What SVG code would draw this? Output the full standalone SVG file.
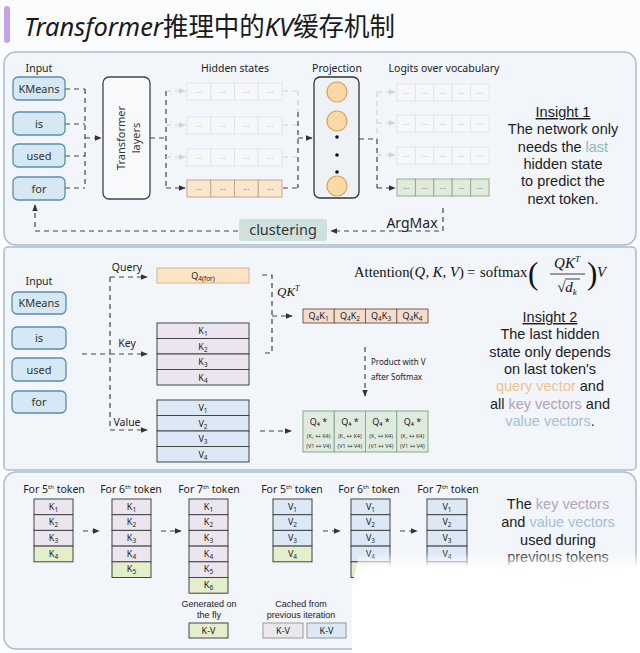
<svg xmlns="http://www.w3.org/2000/svg" width="640" height="653" viewBox="0 0 640 653" font-family="'Noto Sans','Noto Sans CJK SC',sans-serif">
<defs>
<style>
.panel{fill:#f2f5f9;stroke:#a9bccd;stroke-width:1.5}
.inp{fill:#d5e8f3;stroke:#5a8db0;stroke-width:1.3}
.lbl{font-size:10.5px;fill:#222;text-anchor:middle}
.it{font-size:11px;fill:#333;text-anchor:middle}
.d{stroke:#444;stroke-width:1.2;stroke-dasharray:5 4;fill:none}
.df{stroke:#cdd4db;stroke-width:1.2;stroke-dasharray:5 4;fill:none}
.hf{fill:#f5f7f9;stroke:#e2e6eb;stroke-width:1}
.hp{fill:#fae6cf;stroke:#c8a786;stroke-width:1}
.lg{fill:#e0ebdc;stroke:#93ad93;stroke-width:1}
.dots{font-size:8px;text-anchor:middle;fill:#777}
.dotsf{font-size:8px;text-anchor:middle;fill:#c2c8cf}
.ins{font-family:'Liberation Sans',Arial,sans-serif;font-size:14.5px;fill:#1c1c1c;text-anchor:middle}
.c{font-size:9px;fill:#222;text-anchor:middle}
.s{font-size:6.5px}
.kr{fill:#ebe5f0;stroke:#444;stroke-width:1}
.vr{fill:#dce8f5;stroke:#444;stroke-width:1}
.gr{fill:#e3eecb;stroke:#444;stroke-width:1}
.tiny{font-size:5.5px;fill:#333;text-anchor:middle}
.serif{font-family:'Liberation Serif','DejaVu Serif',serif;fill:#111}
.f{font-size:14.7px}
.fi{font-size:14.7px;font-style:italic}
.cap{font-family:'Liberation Sans',Arial,sans-serif;font-size:9px;fill:#222;text-anchor:middle}
</style>
<marker id="ah" viewBox="0 0 10 10" refX="9" refY="5" markerWidth="6" markerHeight="6" orient="auto"><path d="M0,1 L10,5 L0,9 z" fill="#333"/></marker>
<marker id="ahf" viewBox="0 0 10 10" refX="9" refY="5" markerWidth="6" markerHeight="6" orient="auto"><path d="M0,1 L10,5 L0,9 z" fill="#cdd4db"/></marker>
<linearGradient id="fade" x1="0" y1="552" x2="0" y2="568" gradientUnits="userSpaceOnUse"><stop offset="0" stop-color="#fff" stop-opacity="0"/><stop offset="1" stop-color="#fff" stop-opacity="1"/></linearGradient>
</defs>
<rect width="640" height="653" fill="#fbfcfd"/>

<!-- title -->
<g id="title">
<rect x="4" y="6" width="6" height="37" rx="3" fill="#c9a3ea"/>
<text x="24" y="36" font-size="26" fill="#1a1a1a" textLength="371" lengthAdjust="spacingAndGlyphs"><tspan font-style="italic">Transformer</tspan>推理中的<tspan font-style="italic">KV</tspan>缓存机制</text>
</g>

<!-- panels -->
<rect class="panel" x="4" y="52" width="632" height="193" rx="12"/>
<rect class="panel" x="4" y="247" width="632" height="223" rx="4"/>
<rect class="panel" x="4" y="472" width="632" height="177" rx="12"/>

<!-- ===== Panel 1 ===== -->
<g id="connectors1">
<path class="d" d="M65,89 H85 M65,124 H85 M65,156 H85 M65,188 H85 M85,89 V188"/>
<path class="d" d="M85,138 H101" marker-end="url(#ah)"/>
<path class="d" d="M150,138 H166" />
<path class="d" d="M166,91 V188" stroke="#777"/>
<path class="df" d="M166,91 H185" marker-end="url(#ahf)"/>
<path class="df" d="M166,125 H185" marker-end="url(#ahf)"/>
<path class="df" d="M166,157 H185" marker-end="url(#ahf)"/>
<path class="d" d="M166,188 H185" marker-end="url(#ah)"/>
<path class="df" d="M283,91 H298 M283,125 H298 M283,157 H298 M298,91 V112"/>
<path class="d" d="M283,188 H298 M298,112 V188"/>
<path class="d" d="M298,138 H312" marker-end="url(#ah)"/>
<path class="d" d="M359,139 H377 V188"/>
<path class="df" d="M377,92 V139"/>
<path class="df" d="M377,92 H395" marker-end="url(#ahf)"/>
<path class="df" d="M377,123 H395" marker-end="url(#ahf)"/>
<path class="df" d="M377,155 H395" marker-end="url(#ahf)"/>
<path class="d" d="M377,188 H395" marker-end="url(#ah)"/>
<path class="d" d="M443,208 V231 H331" marker-end="url(#ah)"/>
<path class="d" d="M238,231 H35 V205" marker-end="url(#ah)"/>
</g>

<g id="input1">
<text class="lbl" x="39" y="72">Input</text>
<rect class="inp" x="13" y="77" width="52" height="23" rx="5"/><text class="it" x="39" y="92.5">KMeans</text>
<rect class="inp" x="13" y="112" width="52" height="23" rx="5"/><text class="it" x="39" y="127.5">is</text>
<rect class="inp" x="13" y="144" width="52" height="23" rx="5"/><text class="it" x="39" y="159.5">used</text>
<rect class="inp" x="13" y="177" width="52" height="23" rx="5"/><text class="it" x="39" y="192.5">for</text>
</g>

<g id="transformer">
<rect x="103" y="77" width="47" height="122" rx="6" fill="#f7f9fb" stroke="#444" stroke-width="1.3"/>
<text class="it" transform="translate(121,138) rotate(-90)" dy="4">Transformer</text>
<text class="it" transform="translate(136,138) rotate(-90)" dy="4">layers</text>
</g>

<g id="hidden">
<text class="lbl" x="235" y="72">Hidden states</text>
<g>
<rect class="hf" x="187" y="83" width="23.75" height="17"/><rect class="hf" x="210.75" y="83" width="23.75" height="17"/><rect class="hf" x="234.5" y="83" width="23.75" height="17"/><rect class="hf" x="258.25" y="83" width="23.75" height="17"/>
<text class="dotsf" y="93"><tspan x="199">...</tspan><tspan x="222.6">...</tspan><tspan x="246.4">...</tspan><tspan x="270.1">...</tspan></text>
<rect class="hf" x="187" y="117" width="23.75" height="17"/><rect class="hf" x="210.75" y="117" width="23.75" height="17"/><rect class="hf" x="234.5" y="117" width="23.75" height="17"/><rect class="hf" x="258.25" y="117" width="23.75" height="17"/>
<text class="dotsf" y="127"><tspan x="199">...</tspan><tspan x="222.6">...</tspan><tspan x="246.4">...</tspan><tspan x="270.1">...</tspan></text>
<rect class="hf" x="187" y="149" width="23.75" height="17"/><rect class="hf" x="210.75" y="149" width="23.75" height="17"/><rect class="hf" x="234.5" y="149" width="23.75" height="17"/><rect class="hf" x="258.25" y="149" width="23.75" height="17"/>
<text class="dotsf" y="159"><tspan x="199">...</tspan><tspan x="222.6">...</tspan><tspan x="246.4">...</tspan><tspan x="270.1">...</tspan></text>
<rect class="hp" x="187" y="180" width="23.75" height="17"/><rect class="hp" x="210.75" y="180" width="23.75" height="17"/><rect class="hp" x="234.5" y="180" width="23.75" height="17"/><rect class="hp" x="258.25" y="180" width="23.75" height="17"/>
<text class="dots" y="190"><tspan x="199">...</tspan><tspan x="222.6">...</tspan><tspan x="246.4">...</tspan><tspan x="270.1">...</tspan></text>
</g>
</g>

<g id="projection">
<text class="lbl" x="337" y="72">Projection</text>
<rect x="314" y="77" width="45" height="121" rx="6" fill="#eef2f6" stroke="#333" stroke-width="1.3"/>
<circle cx="337" cy="92" r="10" fill="#fbd9a6" stroke="#d9a35b" stroke-width="1.2"/>
<circle cx="337" cy="121" r="10" fill="#fbd9a6" stroke="#d9a35b" stroke-width="1.2"/>
<circle cx="337" cy="137" r="1.8" fill="#111"/>
<circle cx="337" cy="155" r="1.8" fill="#111"/>
<circle cx="337" cy="172" r="1.8" fill="#111"/>
<circle cx="337" cy="186" r="10" fill="#fbd9a6" stroke="#d9a35b" stroke-width="1.2"/>
</g>

<g id="logits">
<text class="lbl" x="444" y="72" font-size="9.5">Logits over vocabulary</text>
<g>
<rect class="hf" x="397" y="84" width="18.4" height="17"/><rect class="hf" x="415.4" y="84" width="18.4" height="17"/><rect class="hf" x="433.8" y="84" width="18.4" height="17"/><rect class="hf" x="452.2" y="84" width="18.4" height="17"/><rect class="hf" x="470.6" y="84" width="18.4" height="17"/>
<text class="dotsf" y="94"><tspan x="406.2">...</tspan><tspan x="424.6">...</tspan><tspan x="443">...</tspan><tspan x="461.4">...</tspan><tspan x="479.8">...</tspan></text>
<rect class="hf" x="397" y="115" width="18.4" height="17"/><rect class="hf" x="415.4" y="115" width="18.4" height="17"/><rect class="hf" x="433.8" y="115" width="18.4" height="17"/><rect class="hf" x="452.2" y="115" width="18.4" height="17"/><rect class="hf" x="470.6" y="115" width="18.4" height="17"/>
<text class="dotsf" y="125"><tspan x="406.2">...</tspan><tspan x="424.6">...</tspan><tspan x="443">...</tspan><tspan x="461.4">...</tspan><tspan x="479.8">...</tspan></text>
<rect class="hf" x="397" y="147" width="18.4" height="17"/><rect class="hf" x="415.4" y="147" width="18.4" height="17"/><rect class="hf" x="433.8" y="147" width="18.4" height="17"/><rect class="hf" x="452.2" y="147" width="18.4" height="17"/><rect class="hf" x="470.6" y="147" width="18.4" height="17"/>
<text class="dotsf" y="157"><tspan x="406.2">...</tspan><tspan x="424.6">...</tspan><tspan x="443">...</tspan><tspan x="461.4">...</tspan><tspan x="479.8">...</tspan></text>
<rect class="lg" x="397" y="179" width="18.4" height="17"/><rect class="lg" x="415.4" y="179" width="18.4" height="17"/><rect class="lg" x="433.8" y="179" width="18.4" height="17"/><rect class="lg" x="452.2" y="179" width="18.4" height="17"/><rect class="lg" x="470.6" y="179" width="18.4" height="17"/>
<text class="dots" y="189"><tspan x="406.2">...</tspan><tspan x="424.6">...</tspan><tspan x="443">...</tspan><tspan x="461.4">...</tspan><tspan x="479.8">...</tspan></text>
</g>
</g>

<g id="argmax"><text x="412" y="228" font-size="14" fill="#222" text-anchor="middle">ArgMax</text></g>
<g id="clustering">
<rect x="239" y="219" width="88" height="22" rx="3" fill="#cfe1dd"/>
<text x="283" y="235" font-size="14.5" fill="#333" text-anchor="middle">clustering</text>
</g>

<g id="insight1">
<text class="ins" x="563" y="117" text-decoration="underline">Insight 1</text>
<text class="ins" x="563" y="134.3">The network only</text>
<text class="ins" x="563" y="151.6">needs the <tspan fill="#86bcbc">last</tspan></text>
<text class="ins" x="563" y="168.9" fill="#86bcbc">hidden state</text>
<text class="ins" x="563" y="186.2">to predict the</text>
<text class="ins" x="563" y="203.5">next token.</text>
</g>

<!-- ===== Panel 2 ===== -->
<g id="connectors2">
<path class="d" d="M82,354 H110 M110,277 V430"/>
<path class="d" d="M110,277 H147" marker-end="url(#ah)"/>
<path class="d" d="M110,354 H147" marker-end="url(#ah)"/>
<path class="d" d="M110,430 H147" marker-end="url(#ah)"/>
<path class="d" d="M262,275 H272 V353 H262"/>
<path class="d" d="M272,316 H292" marker-end="url(#ah)"/>
<path class="d" d="M365,347 V396" marker-end="url(#ah)"/>
<path class="d" d="M260,431 H291" marker-end="url(#ah)"/>
</g>
<text class="lbl" x="127" y="271" font-size="9.5">Query</text>
<text class="lbl" x="127" y="347" font-size="9.5">Key</text>
<text class="lbl" x="127" y="426" font-size="9.5">Value</text>
<text x="277" y="296" class="serif" font-size="13" font-style="italic">QK<tspan font-size="8" dy="-5" font-style="italic">T</tspan></text>
<text x="371" y="365" font-size="8" fill="#222">Product with V</text>
<text x="371" y="380" font-size="8" fill="#222">after Softmax</text>

<g id="input2">
<text class="lbl" x="39" y="285">Input</text>
<rect class="inp" x="12" y="292" width="54" height="22" rx="5"/><text class="it" x="39" y="307">KMeans</text>
<rect class="inp" x="12" y="327" width="54" height="22" rx="5"/><text class="it" x="39" y="342">is</text>
<rect class="inp" x="12" y="358" width="54" height="23" rx="5"/><text class="it" x="39" y="373.5">used</text>
<rect class="inp" x="12" y="391" width="54" height="22" rx="5"/><text class="it" x="39" y="406">for</text>
</g>

<g id="query">
<rect x="157" y="268" width="92" height="15" fill="#fbe3c6" stroke="#d6b58a" stroke-width="1"/>
<text class="c" x="203" y="279">Q<tspan class="s" dy="2">4(for)</tspan></text>
</g>
<g id="keys">
<rect class="kr" x="157" y="323" width="92" height="15.5"/><rect class="kr" x="157" y="338.5" width="92" height="15.5"/><rect class="kr" x="157" y="354" width="92" height="15.5"/><rect class="kr" x="157" y="369.5" width="92" height="15.5"/>
<text class="c" x="203" y="334">K<tspan class="s" dy="2">1</tspan></text>
<text class="c" x="203" y="349.5">K<tspan class="s" dy="2">2</tspan></text>
<text class="c" x="203" y="365">K<tspan class="s" dy="2">3</tspan></text>
<text class="c" x="203" y="380.5">K<tspan class="s" dy="2">4</tspan></text>
</g>
<g id="values">
<rect class="vr" x="157" y="400" width="92" height="15.5"/><rect class="vr" x="157" y="415.5" width="92" height="15.5"/><rect class="vr" x="157" y="431" width="92" height="15.5"/><rect class="vr" x="157" y="446.5" width="92" height="15.5"/>
<text class="c" x="203" y="411">V<tspan class="s" dy="2">1</tspan></text>
<text class="c" x="203" y="426.5">V<tspan class="s" dy="2">2</tspan></text>
<text class="c" x="203" y="442">V<tspan class="s" dy="2">3</tspan></text>
<text class="c" x="203" y="457.5">V<tspan class="s" dy="2">4</tspan></text>
</g>
<g id="qk">
<rect x="303" y="309" width="31.25" height="14" fill="#f3dccd" stroke="#7d5d4e"/><rect x="334.25" y="309" width="31.25" height="14" fill="#f3dccd" stroke="#7d5d4e"/><rect x="365.5" y="309" width="31.25" height="14" fill="#f3dccd" stroke="#7d5d4e"/><rect x="396.75" y="309" width="31.25" height="14" fill="#f3dccd" stroke="#7d5d4e"/>
<text class="c" x="318.6" y="319">Q<tspan class="s" dy="2">4</tspan><tspan dy="-2">K</tspan><tspan class="s" dy="2">1</tspan></text>
<text class="c" x="349.9" y="319">Q<tspan class="s" dy="2">4</tspan><tspan dy="-2">K</tspan><tspan class="s" dy="2">2</tspan></text>
<text class="c" x="381.1" y="319">Q<tspan class="s" dy="2">4</tspan><tspan dy="-2">K</tspan><tspan class="s" dy="2">3</tspan></text>
<text class="c" x="412.4" y="319">Q<tspan class="s" dy="2">4</tspan><tspan dy="-2">K</tspan><tspan class="s" dy="2">4</tspan></text>
</g>
<g id="result">
<rect x="303" y="411" width="31.25" height="41" fill="#e0ebdf" stroke="#8aa88a"/><rect x="334.25" y="411" width="31.25" height="41" fill="#e0ebdf" stroke="#8aa88a"/><rect x="365.5" y="411" width="31.25" height="41" fill="#e0ebdf" stroke="#8aa88a"/><rect x="396.75" y="411" width="31.25" height="41" fill="#e0ebdf" stroke="#8aa88a"/>
<text class="c" y="425"><tspan x="318.6">Q₄ *</tspan><tspan x="349.9">Q₄ *</tspan><tspan x="381.1">Q₄ *</tspan><tspan x="412.4">Q₄ *</tspan></text>
<text class="tiny" y="438"><tspan x="318.6">(K₁ ↔ K4)</tspan><tspan x="349.9">(K₁ ↔ K4)</tspan><tspan x="381.1">(K₁ ↔ K4)</tspan><tspan x="412.4">(K₁ ↔ K4)</tspan></text>
<text class="tiny" y="448"><tspan x="318.6">(V1 ↔ V4)</tspan><tspan x="349.9">(V1 ↔ V4)</tspan><tspan x="381.1">(V1 ↔ V4)</tspan><tspan x="412.4">(V1 ↔ V4)</tspan></text>
</g>

<g id="formula" class="serif">
<text x="354" y="277" class="serif f">Attention(</text>
<text x="414.6" y="277" class="serif fi">Q</text>
<text x="425.4" y="277" class="serif f">,</text>
<text x="432.8" y="277" class="serif fi">K</text>
<text x="442.6" y="277" class="serif f">,</text>
<text x="450" y="277" class="serif fi">V</text>
<text x="459" y="277" class="serif f">)</text>
<text x="467" y="277" class="serif f">=</text>
<text x="480" y="277" class="serif f">softmax</text>
<text x="528" y="284" font-size="31" class="serif">(</text>
<text x="567" y="268" font-size="15" class="serif" text-anchor="middle" font-style="italic">QK<tspan font-size="9" dy="-6">T</tspan></text>
<line x1="550" y1="274" x2="585" y2="274" stroke="#111" stroke-width="0.8"/>
<text x="567" y="292" font-size="15" class="serif" text-anchor="middle">√<tspan font-style="italic">d</tspan><tspan font-size="9" dy="3" font-style="italic">k</tspan></text>
<line x1="565" y1="279" x2="580" y2="279" stroke="#111" stroke-width="0.8"/>
<text x="587" y="284" font-size="31" class="serif">)</text>
<text x="597" y="277" class="serif fi">V</text>
</g>

<g id="insight2">
<text class="ins" x="550" y="322" text-decoration="underline">Insight 2</text>
<text class="ins" x="550" y="339.3">The last hidden</text>
<text class="ins" x="550" y="356.6">state only depends</text>
<text class="ins" x="550" y="373.9">on last token's</text>
<text class="ins" x="550" y="391.2"><tspan fill="#f2c28e">query vector</tspan> and</text>
<text class="ins" x="550" y="408.5">all <tspan fill="#b39dc0">key vectors</tspan> and</text>
<text class="ins" x="550" y="425.8"><tspan fill="#a5c0d8">value vectors</tspan>.</text>
</g>

<!-- ===== Panel 3 ===== -->
<g id="connectors3">
<path class="d" d="M83,531 H99" marker-end="url(#ah)"/>
<path class="d" d="M161,531 H181" marker-end="url(#ah)"/>
<path class="d" d="M323,531 H340" marker-end="url(#ah)"/>
<path class="d" d="M400,531 H417" marker-end="url(#ah)"/>
</g>

<g id="k5">
<text class="lbl" x="54" y="493" font-size="9">For 5<tspan font-size="6" dy="-4">th</tspan><tspan dy="4"> token</tspan></text>
<rect class="kr" x="34" y="499" width="39" height="15.7"/><rect class="kr" x="34" y="514.7" width="39" height="15.7"/><rect class="kr" x="34" y="530.4" width="39" height="15.7"/><rect class="gr" x="34" y="546.1" width="39" height="15.7"/>
<text class="c" x="53.5" y="509.5">K<tspan class="s" dy="2">1</tspan></text><text class="c" x="53.5" y="525.2">K<tspan class="s" dy="2">2</tspan></text><text class="c" x="53.5" y="540.9">K<tspan class="s" dy="2">3</tspan></text><text class="c" x="53.5" y="556.6">K<tspan class="s" dy="2">4</tspan></text>
</g>
<g id="k6">
<text class="lbl" x="131" y="493" font-size="9">For 6<tspan font-size="6" dy="-4">th</tspan><tspan dy="4"> token</tspan></text>
<rect class="kr" x="112" y="499" width="39" height="15.7"/><rect class="kr" x="112" y="514.7" width="39" height="15.7"/><rect class="kr" x="112" y="530.4" width="39" height="15.7"/><rect class="kr" x="112" y="546.1" width="39" height="15.7"/><rect class="gr" x="112" y="561.8" width="39" height="15.7"/>
<text class="c" x="131.5" y="509.5">K<tspan class="s" dy="2">1</tspan></text><text class="c" x="131.5" y="525.2">K<tspan class="s" dy="2">2</tspan></text><text class="c" x="131.5" y="540.9">K<tspan class="s" dy="2">3</tspan></text><text class="c" x="131.5" y="556.6">K<tspan class="s" dy="2">4</tspan></text><text class="c" x="131.5" y="572.3">K<tspan class="s" dy="2">5</tspan></text>
</g>
<g id="k7">
<text class="lbl" x="209" y="493" font-size="9">For 7<tspan font-size="6" dy="-4">th</tspan><tspan dy="4"> token</tspan></text>
<rect class="kr" x="189" y="499" width="39" height="15.7"/><rect class="kr" x="189" y="514.7" width="39" height="15.7"/><rect class="kr" x="189" y="530.4" width="39" height="15.7"/><rect class="kr" x="189" y="546.1" width="39" height="15.7"/><rect class="kr" x="189" y="561.8" width="39" height="15.7"/><rect class="gr" x="189" y="577.5" width="39" height="15.7"/>
<text class="c" x="208.5" y="509.5">K<tspan class="s" dy="2">1</tspan></text><text class="c" x="208.5" y="525.2">K<tspan class="s" dy="2">2</tspan></text><text class="c" x="208.5" y="540.9">K<tspan class="s" dy="2">3</tspan></text><text class="c" x="208.5" y="556.6">K<tspan class="s" dy="2">4</tspan></text><text class="c" x="208.5" y="572.3">K<tspan class="s" dy="2">5</tspan></text><text class="c" x="208.5" y="588">K<tspan class="s" dy="2">6</tspan></text>
</g>
<g id="generated">
<text class="cap" x="209" y="607">Generated on</text>
<text class="cap" x="209" y="618">the fly</text>
<rect class="gr" x="189" y="623" width="39" height="15"/>
<text class="c" x="208.5" y="634" font-size="8.5">K-V</text>
</g>

<g id="v5">
<text class="lbl" x="292" y="493" font-size="9">For 5<tspan font-size="6" dy="-4">th</tspan><tspan dy="4"> token</tspan></text>
<rect class="vr" x="273" y="499" width="39" height="15.7"/><rect class="vr" x="273" y="514.7" width="39" height="15.7"/><rect class="vr" x="273" y="530.4" width="39" height="15.7"/><rect class="gr" x="273" y="546.1" width="39" height="15.7"/>
<text class="c" x="292.5" y="509.5">V<tspan class="s" dy="2">1</tspan></text><text class="c" x="292.5" y="525.2">V<tspan class="s" dy="2">2</tspan></text><text class="c" x="292.5" y="540.9">V<tspan class="s" dy="2">3</tspan></text><text class="c" x="292.5" y="556.6">V<tspan class="s" dy="2">4</tspan></text>
</g>
<g id="v6">
<text class="lbl" x="369" y="493" font-size="9">For 6<tspan font-size="6" dy="-4">th</tspan><tspan dy="4"> token</tspan></text>
<rect class="vr" x="351" y="499" width="39" height="15.7"/><rect class="vr" x="351" y="514.7" width="39" height="15.7"/><rect class="vr" x="351" y="530.4" width="39" height="15.7"/><rect class="vr" x="351" y="546.1" width="39" height="15.7"/><rect class="gr" x="351" y="561.8" width="39" height="15.7"/>
<text class="c" x="370.5" y="509.5">V<tspan class="s" dy="2">1</tspan></text><text class="c" x="370.5" y="525.2">V<tspan class="s" dy="2">2</tspan></text><text class="c" x="370.5" y="540.9">V<tspan class="s" dy="2">3</tspan></text><text class="c" x="370.5" y="556.6">V<tspan class="s" dy="2">4</tspan></text><text class="c" x="370.5" y="572.3">V<tspan class="s" dy="2">5</tspan></text>
</g>
<g id="v7">
<text class="lbl" x="448" y="493" font-size="9">For 7<tspan font-size="6" dy="-4">th</tspan><tspan dy="4"> token</tspan></text>
<rect class="vr" x="427" y="499" width="40" height="15.7"/><rect class="vr" x="427" y="514.7" width="40" height="15.7"/><rect class="vr" x="427" y="530.4" width="40" height="15.7"/><rect class="vr" x="427" y="546.1" width="40" height="15.7"/><rect class="vr" x="427" y="561.8" width="40" height="15.7"/><rect class="gr" x="427" y="577.5" width="40" height="15.7"/>
<text class="c" x="447" y="509.5">V<tspan class="s" dy="2">1</tspan></text><text class="c" x="447" y="525.2">V<tspan class="s" dy="2">2</tspan></text><text class="c" x="447" y="540.9">V<tspan class="s" dy="2">3</tspan></text><text class="c" x="447" y="556.6">V<tspan class="s" dy="2">4</tspan></text>
</g>
<g id="cached">
<text class="cap" x="301" y="607">Cached from</text>
<text class="cap" x="301" y="618">previous iteration</text>
<rect x="263" y="623" width="40" height="15" fill="#ebe8ec" stroke="#999"/>
<text class="c" x="283" y="634" font-size="8.5">K-V</text>
<rect x="307" y="623" width="39" height="15" fill="#dbe8f5" stroke="#999"/>
<text class="c" x="326.5" y="634" font-size="8.5">K-V</text>
</g>
<g id="insight3">
<text class="ins" x="558" y="509">The <tspan fill="#b3a6bd">key vectors</tspan></text>
<text class="ins" x="558" y="527">and <tspan fill="#a5c0d8">value vectors</tspan></text>
<text class="ins" x="558" y="544.5">used during</text>
<text class="ins" x="558" y="562">previous tokens</text>
</g>

<!-- fade overlay -->
<path d="M360,552 L640,552 L640,653 L352,653 L352,586 Z" fill="url(#fade)"/>
<path d="M360,566 L640,566 L640,653 L352,653 L352,586 Z" fill="#ffffff"/>
</svg>
